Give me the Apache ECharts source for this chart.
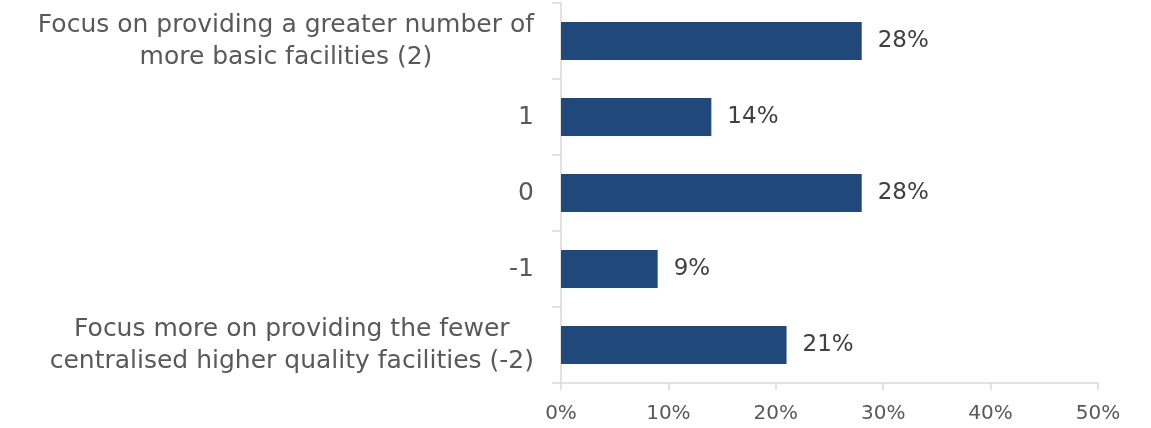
<!DOCTYPE html>
<html>
<head>
<meta charset="utf-8">
<style>
  html, body { margin: 0; padding: 0; background: #ffffff; }
  #chart { width: 1151px; height: 428px; }
</style>
<script src="https://cdn.jsdelivr.net/npm/echarts@6/dist/echarts.min.js"></script>
</head>
<body>
<div id="chart"></div>
<script>
// Response options, listed top to bottom
const categories = [
  'Focus on providing a greater number of\nmore basic facilities (2)',
  '1',
  '0',
  '-1',
  'Focus more on providing the fewer\ncentralised higher quality facilities (-2)'
];
// Share of respondents (%)
const shares = [28, 14, 28, 9, 21];
// Value axis ticks (%)
const axisTicks = [0, 10, 20, 30, 40, 50];

const FONT = '"DejaVu Sans", sans-serif';
const AXIS_GREY = '#D9D9D9';
const chart = echarts.init(document.getElementById('chart'), null, { renderer: 'canvas' });

chart.setOption({
  animation: false,
  grid: { left: 561, right: 53, top: 3, bottom: 45 },
  xAxis: {
    type: 'value',
    min: axisTicks[0],
    max: axisTicks[axisTicks.length - 1],
    interval: axisTicks[1] - axisTicks[0],
    axisLine: { show: true, lineStyle: { color: AXIS_GREY, width: 1.5 } },
    axisTick: { show: true, length: 7, lineStyle: { color: AXIS_GREY, width: 1.5 } },
    splitLine: { show: false },
    axisLabel: {
      formatter: v => v + '%',
      color: '#595959',
      fontFamily: FONT,
      fontSize: 20,
      margin: 21
    }
  },
  yAxis: {
    type: 'category',
    inverse: true,
    data: categories,
    axisLine: { show: true, lineStyle: { color: AXIS_GREY, width: 1.5 } },
    axisTick: { show: true, length: 9, lineStyle: { color: AXIS_GREY, width: 1.5 } },
    axisLabel: {
      align: 'right',
      margin: 27,
      // each line centred within the right-anchored block
      formatter: v => v.split('\n').map(line => '{c|' + line + '}').join('\n'),
      rich: {
        c: {
          align: 'center',
          color: '#595959',
          fontFamily: FONT,
          fontSize: 25,
          lineHeight: 32
        }
      }
    }
  },
  series: [{
    type: 'bar',
    data: shares,
    barCategoryGap: '50%',
    itemStyle: { color: '#21487A' },
    label: {
      show: true,
      position: 'right',
      distance: 16,
      formatter: p => p.value + '%',
      color: '#404040',
      fontFamily: FONT,
      fontSize: 23
    }
  }]
});
</script>
</body>
</html>
